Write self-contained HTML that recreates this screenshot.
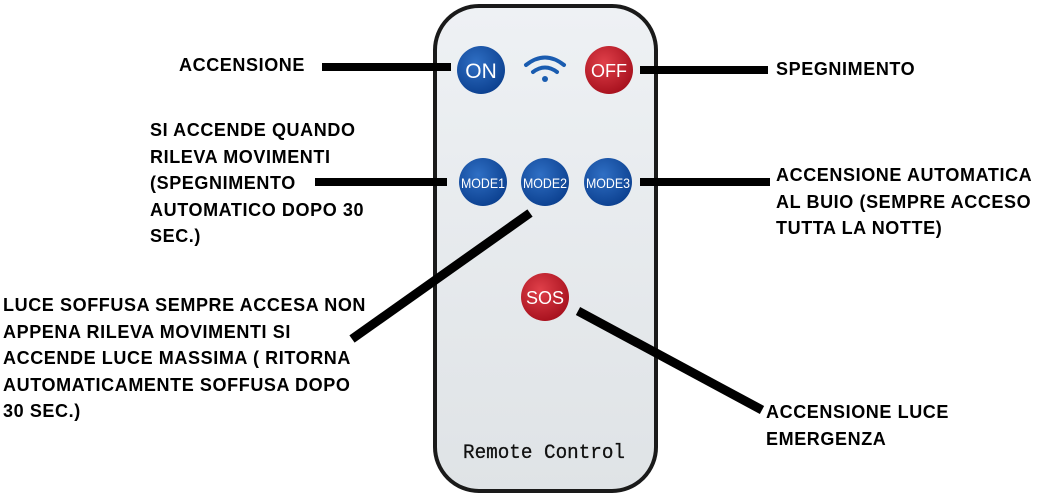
<!DOCTYPE html>
<html><head><style>
body{margin:0;width:1045px;height:496px;background:#fff;position:relative;overflow:hidden;font-family:"Liberation Sans",sans-serif}
.t{position:absolute;font-weight:bold;font-size:18px;letter-spacing:0.6px;line-height:26.5px;color:#000;white-space:nowrap}
</style></head><body>
<svg width="1045" height="496" style="position:absolute;left:0;top:0">
<defs>
<radialGradient id="bg" cx="40%" cy="35%" r="70%"><stop offset="0" stop-color="#2f6fc4"/><stop offset="1" stop-color="#0b3f8e"/></radialGradient>
<radialGradient id="rg" cx="40%" cy="35%" r="70%"><stop offset="0" stop-color="#e0404a"/><stop offset="1" stop-color="#a50f1c"/></radialGradient>
<linearGradient id="body" x1="0" y1="0" x2="0" y2="1"><stop offset="0" stop-color="#eef1f4"/><stop offset="1" stop-color="#dfe3e6"/></linearGradient>
</defs>
<rect x="435" y="6" width="221" height="485" rx="44" fill="url(#body)" stroke="#1a1a1a" stroke-width="4"/>
<g font-family="Liberation Sans" fill="#fff" text-anchor="middle">
<circle cx="481" cy="70" r="24" fill="url(#bg)"/><text x="481" y="78" font-size="21">ON</text>
<circle cx="609" cy="70" r="24" fill="url(#rg)"/><text x="609" y="77" font-size="18">OFF</text>
<circle cx="483" cy="182" r="24" fill="url(#bg)"/><text x="483" y="188" font-size="14" textLength="44" lengthAdjust="spacingAndGlyphs">MODE1</text>
<circle cx="545" cy="182" r="24" fill="url(#bg)"/><text x="545" y="188" font-size="14" textLength="44" lengthAdjust="spacingAndGlyphs">MODE2</text>
<circle cx="608" cy="182" r="24" fill="url(#bg)"/><text x="608" y="188" font-size="14" textLength="44" lengthAdjust="spacingAndGlyphs">MODE3</text>
<circle cx="545" cy="297" r="24" fill="url(#rg)"/><text x="545" y="304" font-size="18">SOS</text>
</g>
<g fill="none" stroke="#1a5cb0" stroke-width="4" stroke-linecap="round">
<path d="M526 65 Q545 50 564 65"/><path d="M533 72 Q545 63 557 72"/>
</g>
<circle cx="545" cy="79" r="3" fill="#1a5cb0"/>
<text x="544" y="458" font-family="Liberation Mono" font-size="20" text-anchor="middle" fill="#111" textLength="162" lengthAdjust="spacingAndGlyphs" stroke="#111" stroke-width="0.3">Remote Control</text>
<g stroke="#000" stroke-width="8">
<line x1="322" y1="67" x2="451" y2="67"/>
<line x1="640" y1="70" x2="768" y2="70"/>
<line x1="315" y1="182" x2="447" y2="182"/>
<line x1="640" y1="182" x2="770" y2="182"/>
<line x1="530" y1="213" x2="352" y2="339" stroke-width="9"/>
<line x1="578" y1="311" x2="762" y2="410" stroke-width="9"/>
</g>
</svg>
<div class="t" style="left:179px;top:52px">ACCENSIONE</div>
<div class="t" style="left:776px;top:56px">SPEGNIMENTO</div>
<div class="t" style="left:150px;top:117px">SI ACCENDE QUANDO<br>RILEVA MOVIMENTI<br>(SPEGNIMENTO<br>AUTOMATICO DOPO 30<br>SEC.)</div>
<div class="t" style="left:776px;top:162px">ACCENSIONE AUTOMATICA<br>AL BUIO (SEMPRE ACCESO<br>TUTTA LA NOTTE)</div>
<div class="t" style="left:3px;top:292px">LUCE SOFFUSA SEMPRE ACCESA NON<br>APPENA RILEVA MOVIMENTI SI<br>ACCENDE LUCE MASSIMA ( RITORNA<br>AUTOMATICAMENTE SOFFUSA DOPO<br>30 SEC.)</div>
<div class="t" style="left:766px;top:399px">ACCENSIONE LUCE<br>EMERGENZA</div>
</body></html>
